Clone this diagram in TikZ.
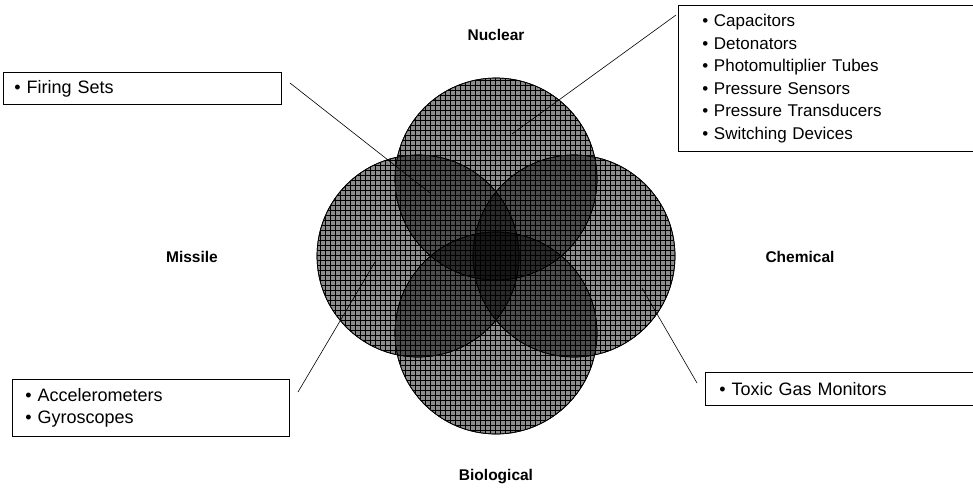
\documentclass[tikz,border=0pt]{standalone}
\usepackage{fontspec}
\setmainfont{Liberation Sans}
\usetikzlibrary{positioning}
\tikzstyle{venn} = [circle, minimum size=202pt, inner sep=0pt, draw=black, line width=0.7pt]
\tikzstyle{tint} = [fill=black, fill opacity=0.45]
\tikzstyle{gridline} = [black, line width=0.45pt, step=5pt]
\tikzstyle{listbox} = [rectangle, draw=black, line width=0.7pt, fill=white, anchor=north west, align=left, inner xsep=11pt, font=\fontsize{18}{22.3}\selectfont]
\tikzstyle{setlabel} = [font=\fontsize{15.5}{18}\selectfont\bfseries]
\tikzstyle{leader} = [black, line width=0.6pt]

\begin{document}
\begin{tikzpicture}[x=1pt, y=-1pt]
    \useasboundingbox (0,0) rectangle (973,491);

    % Circles
    \node (nuc) [venn, tint] at (496,179) {};
    \node (mis) [venn, tint] at (418,256) {};
    \node (che) [venn, tint] at (574,256) {};
    \node (bio) [venn, tint] at (496,333) {};
    \foreach \c in {nuc,mis,che,bio} {
        \begin{scope}
            \clip (\c.center) circle (101pt);
            \draw [gridline] (300,60) grid (700,460);
        \end{scope}
        \draw [line width=0.7pt] (\c.center) circle (101pt);
    }

    % Labels
    \node (nuclear) [setlabel] at (496,35) {Nuclear};
    \node (missile) [setlabel] at (192,257) {Missile};
    \node (chemical) [setlabel] at (800,257) {Chemical};
    \node (biological) [setlabel] at (496,477) {Biological};

    % Boxes
    \node (firing) [listbox, text width=256pt, minimum height=32pt] at (3,72) {• Firing Sets};
    \node (parts) [listbox, text width=270pt, minimum height=146pt, inner xsep=24pt, font=\fontsize{17}{22.5}\selectfont] at (678,5) {• Capacitors\\ • Detonators\\ • Photomultiplier Tubes\\ • Pressure Sensors\\ • Pressure Transducers\\ • Switching Devices};
    \node (guidance) [listbox, text width=251pt, minimum height=57pt, inner xsep=13pt] at (12,379) {• Accelerometers\\ • Gyroscopes};
    \node (gas) [listbox, text width=260pt, minimum height=33pt, inner xsep=14pt] at (705,372) {• Toxic Gas Monitors};

    % Leaders
    \coordinate (nuc-in) at (512,134);
    \coordinate (nuc-out) at (676,15);
    \coordinate (fir-in) at (430,193);
    \coordinate (fir-out) at (290,83);
    \coordinate (mis-in) at (375,262);
    \coordinate (mis-out) at (298,392);
    \coordinate (che-in) at (642,288);
    \coordinate (che-out) at (697,383);
    \draw [leader] (nuc-out) -- (nuc-in);
    \draw [leader] (fir-out) -- (fir-in);
    \draw [leader] (mis-out) -- (mis-in);
    \draw [leader] (che-out) -- (che-in);

\end{tikzpicture}
\end{document}
